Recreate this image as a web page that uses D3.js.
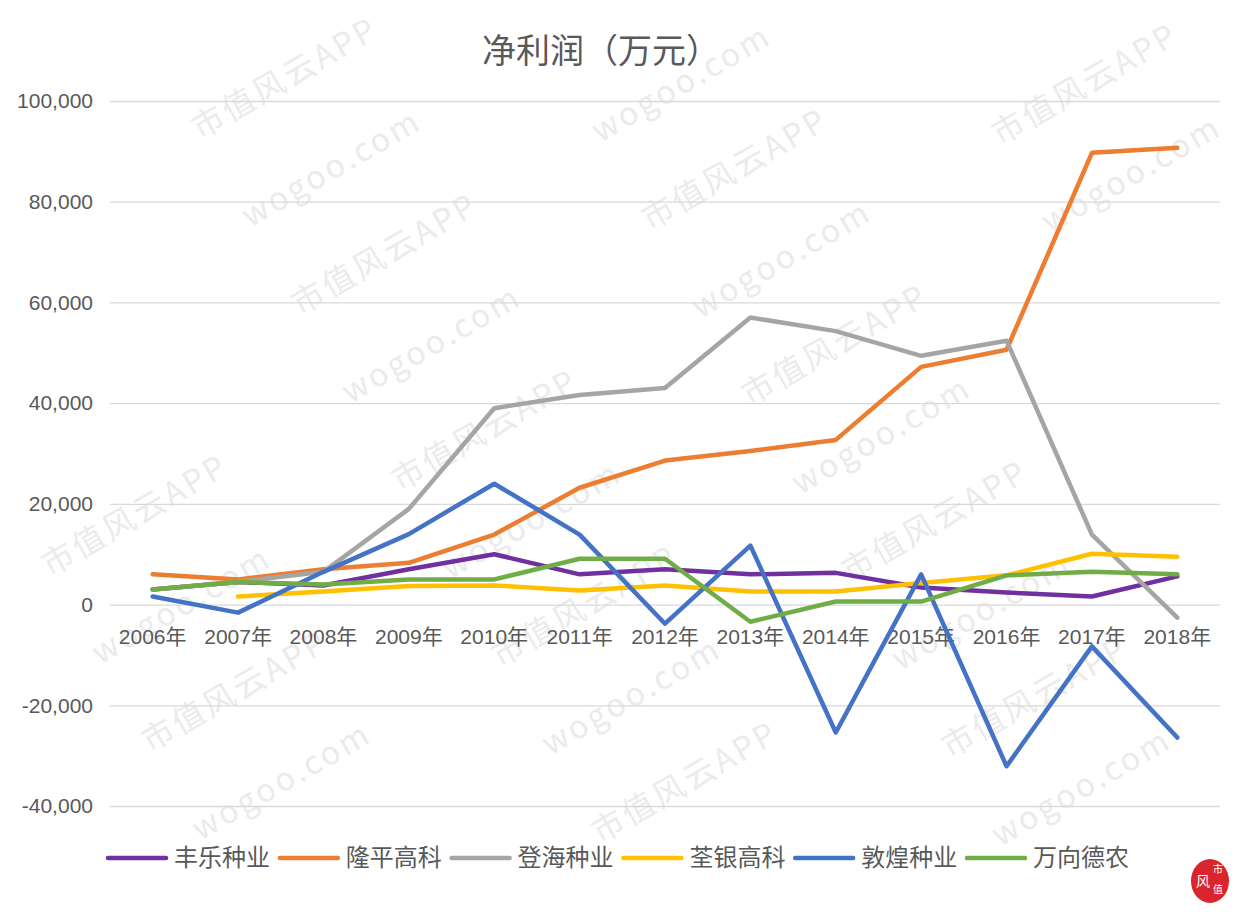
<!DOCTYPE html>
<html>
<head>
<meta charset="utf-8">
<script src="https://cdn.jsdelivr.net/npm/d3@7"></script>
<style>
  body { margin: 0; background: #fff; }
  svg text { font-family: "Liberation Sans", "Noto Sans CJK SC", sans-serif; }
</style>
</head>
<body>
<svg id="chart"></svg>
<script>
// 年份
const years = ["2006年", "2007年", "2008年", "2009年", "2010年", "2011年", "2012年",
  "2013年", "2014年", "2015年", "2016年", "2017年", "2018年"];

// 净利润（万元），按公司
const fengle   = [3000, 4500, 3800, 7000, 10000, 6000, 7000, 6000, 6300, 3400, 2400, 1600, 5600];
const longping = [6000, 5000, 7000, 8300, 13900, 23200, 28600, 30500, 32700, 47200, 50600, 89700, 90700];
const denghai  = [3000, 4500, 6500, 19000, 39000, 41600, 43000, 57000, 54300, 49400, 52400, 13900, -2600];
const quanyin  = [null, 1600, 2600, 3700, 3800, 2800, 3800, 2600, 2600, 4300, 5800, 10100, 9500];
const dunhuang = [1600, -1600, 6500, 14000, 24000, 13900, -3800, 11700, -25400, 6000, -32100, -8300, -26400];
const wanxiang = [3000, 4500, 4000, 5000, 5000, 9100, 9100, -3400, 600, 600, 5800, 6500, 6000];

const seriesNames = ["丰乐种业", "隆平高科", "登海种业", "荃银高科", "敦煌种业", "万向德农"];
const seriesValues = [fengle, longping, denghai, quanyin, dunhuang, wanxiang];
const colors = ["#7030A0", "#ED7D31", "#A5A5A5", "#FFC000", "#4472C4", "#70AD47"];
const yTicks = [-40000, -20000, 0, 20000, 40000, 60000, 80000, 100000];

const width = 1245, height = 914;
const margin = { left: 110, right: 25, top: 101, bottom: 108 };

const svg = d3.select("#chart")
  .attr("width", width)
  .attr("height", height);

// 水印（背景，斜排）
const wm = svg.append("g").attr("class", "watermark");
const wmTexts = ["市值风云APP", "wogoo.com"];
d3.range(-3, 8).forEach(i => {
  d3.range(-2, 14).forEach(j => {
    const x0 = 200 + i * 300 + j * 50;
    const y0 = 140 - i * 173 + j * 88;
    const t = wm.append("text")
      .attr("transform", `translate(${x0},${y0}) rotate(-30)`)
      .style("font-family", "'Noto Sans CJK SC', sans-serif")
      .style("font-size", "32px")
      .style("letter-spacing", "3px")
      .attr("fill", "#ebebeb")
      .text(wmTexts[((i + j) % 2 + 2) % 2]);
    const L = t.node().getComputedTextLength();
    const inside = x0 - 16 >= 0 && y0 + 6 <= height &&
      x0 + L * 0.866 <= width && y0 - L * 0.5 - 28 >= 0;
    if (!inside) t.remove();
  });
});

const x = d3.scaleBand()
  .domain(years)
  .range([margin.left, width - margin.right]);

const y = d3.scaleLinear()
  .domain([-40000, 100000])
  .range([height - margin.bottom, margin.top]);

const cx = d => x(d) + x.bandwidth() / 2;
const fmt = v => d3.format(",")(v).replace("−", "-");

// 网格线
const grid = svg.append("g")
  .attr("transform", `translate(${margin.left},0)`)
  .call(d3.axisLeft(y)
    .tickValues(yTicks)
    .tickSize(-(width - margin.left - margin.right))
    .tickFormat(""));
grid.select(".domain").remove();
grid.selectAll("line").attr("stroke", "#d9d9d9").attr("stroke-width", 1.3);

// Y 轴标签
svg.append("g")
  .selectAll("text")
  .data(yTicks)
  .enter()
  .append("text")
  .attr("x", 93)
  .attr("y", d => y(d))
  .attr("dy", "0.35em")
  .attr("text-anchor", "end")
  .attr("fill", "#595959")
  .style("font-size", "21px")
  .text(fmt);

// X 轴标签
svg.append("g")
  .selectAll("text")
  .data(years)
  .enter()
  .append("text")
  .attr("x", d => cx(d))
  .attr("y", y(0) + 39)
  .attr("text-anchor", "middle")
  .attr("fill", "#595959")
  .style("font-size", "21px")
  .text(d => d);

// 折线
const line = d3.line()
  .defined(d => d.v !== null)
  .x(d => cx(d.year))
  .y(d => y(d.v));

seriesValues.forEach((vals, i) => {
  const pts = vals.map((v, k) => ({ year: years[k], v }));
  svg.append("path")
    .datum(pts)
    .attr("fill", "none")
    .attr("stroke", colors[i])
    .attr("stroke-width", 4.5)
    .attr("stroke-linejoin", "round")
    .attr("stroke-linecap", "round")
    .attr("d", line);
});

// 标题
svg.append("text")
  .attr("x", 601)
  .attr("y", 63)
  .attr("text-anchor", "middle")
  .attr("fill", "#595959")
  .style("font-family", "'Noto Sans CJK SC', sans-serif")
  .style("font-size", "34px")
  .text("净利润（万元）");

// 图例
const legend = svg.append("g")
  .attr("transform", `translate(108,858)`);
const itemW = 171.8;
seriesNames.forEach((name, i) => {
  const g = legend.append("g").attr("transform", `translate(${i * itemW},0)`);
  g.append("line")
    .attr("x1", 0).attr("x2", 58)
    .attr("y1", 0).attr("y2", 0)
    .attr("stroke", colors[i])
    .attr("stroke-width", 4.5)
    .attr("stroke-linecap", "round");
  g.append("text")
    .attr("x", 66)
    .attr("y", 0)
    .attr("dy", "0.35em")
    .attr("fill", "#595959")
    .style("font-family", "'Noto Sans CJK SC', sans-serif")
    .style("font-size", "24px")
    .text(name);
});

// 右下角标志
const logo = svg.append("g").attr("transform", "translate(1210,881)");
logo.append("ellipse").attr("rx", 19).attr("ry", 22).attr("fill", "#d9262c");
logo.append("text")
  .attr("x", -7).attr("y", 5)
  .attr("text-anchor", "middle")
  .attr("fill", "#fff")
  .style("font-family", "'Noto Sans CJK SC', sans-serif")
  .style("font-size", "14px")
  .text("风");
logo.append("text")
  .attr("x", 8).attr("y", -8)
  .attr("text-anchor", "middle")
  .attr("fill", "#fff")
  .style("font-family", "'Noto Sans CJK SC', sans-serif")
  .style("font-size", "10px")
  .text("市");
logo.append("text")
  .attr("x", 8).attr("y", 12)
  .attr("text-anchor", "middle")
  .attr("fill", "#fff")
  .style("font-family", "'Noto Sans CJK SC', sans-serif")
  .style("font-size", "10px")
  .text("值");
</script>
</body>
</html>
